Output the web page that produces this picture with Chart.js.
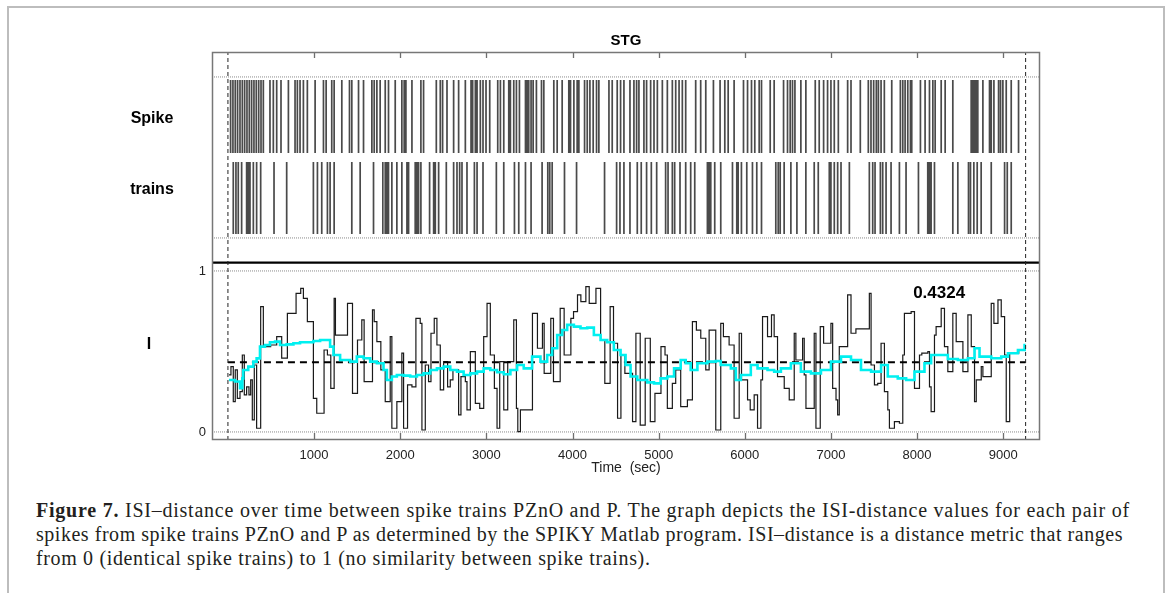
<!DOCTYPE html>
<html><head><meta charset="utf-8">
<script src="https://cdn.jsdelivr.net/npm/chart.js@4.4.1/dist/chart.umd.min.js"></script>
<style>
html,body{margin:0;padding:0;background:#fff;width:1167px;height:593px;overflow:hidden;}
#frame{position:absolute;left:7px;top:6px;width:1158px;height:620px;border:2px solid #bdbdbd;border-bottom:none;box-sizing:border-box;}
#wrap{position:absolute;left:0;top:0;width:1167px;height:480px;}
#cap{position:absolute;left:36px;top:498px;font-family:"Liberation Serif","DejaVu Serif",serif;font-size:20px;line-height:24px;color:#231f20;white-space:nowrap;}
#cap .ln{display:block;}
#cap .ln span.t{display:inline-block;}
#cap b{font-weight:bold;}
</style></head>
<body>
<div id="frame"></div>
<div id="wrap"><canvas id="c" width="1167" height="480"></canvas></div>
<div id="cap">
<div class="ln"><span class="t"><b>Figure 7.</b> ISI–distance over time between spike trains PZnO and P. The graph depicts the ISI-distance values for each pair of</span></div>
<div class="ln"><span class="t">spikes from spike trains PZnO and P as determined by the SPIKY Matlab program. ISI–distance is a distance metric that ranges</span></div>
<div class="ln"><span class="t">from 0 (identical spike trains) to 1 (no similarity between spike trains).</span></div>
</div>
<script>
// ---- data ----
const titleText = 'STG';
const xTicks = [1000,2000,3000,4000,5000,6000,7000,8000,9000];
const yTicks = [0,1];
const recStart = 0;
const recEnd = 9260;
const meanISI = 0.4324;

const spikeTrain1 = [31,58,85,112,140,167,194,221,248,275,302,329,357,384,411,488,527,566,616,702,779,806,837,876,922,1012,1109,1140,1205,1233,1322,1411,1438,1516,1574,1671,1698,1729,1767,1826,1864,1942,2019,2046,2066,2136,2240,2271,2419,2465,2492,2543,2620,2678,2756,2822,2841,2872,2892,2930,2961,2996,3039,3132,3163,3202,3260,3279,3318,3349,3384,3454,3473,3492,3519,3543,3581,3640,3667,3783,3822,3880,3957,3977,4016,4054,4074,4140,4171,4202,4240,4279,4306,4423,4461,4519,4558,4597,4667,4713,4744,4771,4829,4860,4907,4946,4985,5043,5101,5159,5198,5237,5275,5314,5430,5488,5547,5636,5713,5768,5807,5876,5985,6032,6078,6116,6167,6194,6295,6341,6450,6496,6527,6554,6582,6651,6709,6818,6864,6915,6961,7000,7039,7086,7194,7233,7341,7434,7465,7496,7527,7551,7582,7620,7706,7806,7834,7861,7892,7923,7938,8039,8093,8144,8183,8210,8280,8326,8415,8628,8647,8667,8686,8705,8764,8841,8861,8892,8946,8969,8996,9035,9093,9178];

const spikeTrain2 = [62,93,120,159,217,236,256,295,333,380,535,682,992,1039,1089,1155,1186,1233,1438,1535,1690,1798,1826,1845,1864,1903,1961,2019,2078,2097,2174,2194,2213,2240,2341,2388,2407,2446,2535,2620,2659,2690,2717,2775,2861,2892,2961,3116,3202,3326,3376,3454,3519,3647,3713,3736,3764,3907,4047,4372,4512,4551,4597,4667,4752,4798,4860,4915,4977,5081,5109,5159,5186,5248,5314,5372,5419,5566,5585,5605,5651,5721,5857,5907,5923,5961,6023,6089,6139,6194,6360,6388,6411,6457,6535,6605,6709,6806,6853,6981,7000,7039,7078,7117,7214,7446,7485,7512,7574,7601,7640,7698,7795,7872,8016,8124,8144,8163,8202,8415,8473,8597,8620,8659,8698,8744,8861,9016,9047,9093];

const isiTimes = [12,35,62,85,109,140,167,190,217,244,264,283,306,333,380,411,496,566,624,690,791,845,876,922,992,1031,1116,1155,1194,1233,1248,1388,1446,1504,1554,1581,1678,1698,1729,1775,1826,1884,1903,1961,2019,2039,2085,2136,2182,2232,2252,2291,2329,2357,2395,2426,2465,2504,2550,2581,2612,2678,2705,2756,2775,2814,2872,2923,2969,3008,3046,3093,3124,3155,3202,3248,3318,3349,3365,3395,3535,3593,3651,3671,3748,3779,3857,3903,3981,4012,4058,4097,4155,4194,4272,4326,4375,4437,4476,4523,4562,4608,4697,4736,4786,4844,4903,4957,5027,5074,5101,5159,5198,5256,5334,5392,5438,5489,5547,5586,5663,5721,5752,5818,5876,5935,5962,6032,6063,6109,6148,6187,6206,6264,6310,6341,6380,6458,6516,6574,6593,6671,6690,6710,6806,6826,6876,6915,7000,7020,7059,7078,7097,7194,7233,7290,7446,7466,7505,7543,7582,7621,7660,7679,7737,7795,7834,7853,7931,7970,8028,8055,8125,8144,8163,8202,8221,8280,8318,8357,8415,8454,8532,8590,8629,8667,8687,8745,8764,8861,8892,8939,8977,9016,9035,9075,9180];
const isiValues = [0.354,0.406,0.188,0.385,0.209,0.25,0.478,0.23,0.28,0.23,0.323,0.075,0.416,0.023,0.778,0.53,0.54,0.592,0.458,0.737,0.861,0.892,0.83,0.685,0.209,0.116,0.509,0.478,0.271,0.83,0.602,0.799,0.24,0.571,0.696,0.313,0.758,0.685,0.561,0.385,0.188,0.592,0.023,0.188,0.489,0.023,0.292,0.28,0.706,0.675,0.012,0.416,0.313,0.613,0.706,0.54,0.261,0.437,0.28,0.323,0.385,0.106,0.344,0.313,0.137,0.499,0.178,0.147,0.592,0.799,0.478,0.271,0.023,0.437,0.137,0.437,0.696,0.147,0.002,0.137,0.737,0.52,0.675,0.364,0.706,0.313,0.768,0.478,0.706,0.747,0.851,0.809,0.903,0.799,0.892,0.571,0.302,0.778,0.551,0.085,0.478,0.364,0.064,0.613,0.043,0.582,0.064,0.24,0.53,0.478,0.147,0.302,0.385,0.157,0.199,0.685,0.633,0.582,0.385,0.633,0.012,0.675,0.592,0.54,0.085,0.613,0.323,0.199,0.137,0.23,0.023,0.323,0.716,0.592,0.727,0.592,0.344,0.271,0.199,0.613,0.447,0.582,0.354,0.147,0.613,0.023,0.654,0.551,0.675,0.271,0.199,0.106,0.53,0.851,0.613,0.64,0.861,0.416,0.292,0.302,0.551,0.25,0.137,0.023,0.064,0.054,0.478,0.737,0.747,0.271,0.478,0.489,0.499,0.28,0.126,0.602,0.654,0.768,0.53,0.375,0.737,0.561,0.375,0.727,0.53,0.188,0.323,0.406,0.344,0.799,0.675,0.82,0.716,0.478,0.064,0.49,0.51];

const avgTimes = [12,81,140,167,178,236,295,333,372,430,488,547,605,682,760,837,915,992,1070,1128,1186,1225,1302,1419,1496,1574,1651,1729,1806,1845,1903,1961,2039,2116,2194,2271,2349,2426,2504,2581,2659,2736,2814,2892,2969,3046,3124,3202,3279,3357,3434,3531,3628,3706,3764,3822,3880,3938,4016,4093,4171,4248,4326,4403,4480,4558,4616,4674,4752,4868,4946,5023,5101,5179,5256,5314,5372,5450,5566,5663,5721,5838,5896,5954,6070,6148,6264,6341,6419,6535,6651,6768,6884,7000,7117,7233,7349,7466,7582,7660,7776,7873,7970,8086,8163,8241,8357,8473,8590,8667,8725,8861,8977,9055,9171,9248];
const avgValues = [0.323,0.313,0.271,0.333,0.385,0.406,0.437,0.457,0.53,0.54,0.557,0.561,0.54,0.544,0.551,0.557,0.557,0.565,0.571,0.571,0.53,0.478,0.447,0.437,0.468,0.458,0.437,0.427,0.385,0.323,0.344,0.354,0.35,0.344,0.354,0.364,0.385,0.395,0.406,0.385,0.375,0.354,0.364,0.375,0.395,0.385,0.371,0.358,0.385,0.416,0.395,0.468,0.437,0.478,0.52,0.602,0.633,0.665,0.654,0.644,0.648,0.602,0.571,0.557,0.509,0.478,0.416,0.344,0.323,0.308,0.302,0.333,0.344,0.395,0.447,0.427,0.385,0.427,0.437,0.441,0.416,0.395,0.323,0.354,0.416,0.395,0.385,0.375,0.395,0.427,0.375,0.364,0.385,0.437,0.468,0.447,0.385,0.375,0.416,0.344,0.333,0.323,0.375,0.427,0.478,0.478,0.453,0.447,0.458,0.52,0.468,0.458,0.468,0.489,0.509,0.54];

// ---- panel geometry (styling, in y-scale units) ----
const Y_MIN = -0.05, Y_MAX = 2.36, X_MIN = -185, X_MAX = 9427;
const row1 = [1.733, 2.186], row2 = [1.230, 1.677];
const dottedLevels = [2.205, 1.205, 1, 0];
const solidLevel = 1.052;

function spikeData(times, lo, hi){
  const d = [];
  times.forEach(t => { d.push({x:t,y:lo},{x:t,y:hi},{x:t,y:null}); });
  return d;
}
function stepData(ts, vs, end){
  const d = ts.map((t,i)=>({x:t,y:vs[i]}));
  d.push({x:end,y:vs[vs.length-1]});
  return d;
}

const datasets = [];
dottedLevels.forEach(v => datasets.push({data:[{x:X_MIN,y:v},{x:X_MAX,y:v}], borderColor:'#8a8a8a', borderWidth:1, borderDash:[1,1], order:10}));
datasets.push({data:[{x:X_MIN,y:solidLevel},{x:X_MAX,y:solidLevel}], borderColor:'#000', borderWidth:2.2, order:9});
[recStart, recEnd].forEach(t => datasets.push({data:[{x:t,y:Y_MIN},{x:t,y:Y_MAX}], borderColor:'#222', borderWidth:1, borderDash:[4,3], order:1}));
datasets.push({data:spikeData(spikeTrain1,row1[0],row1[1]), borderColor:'#4a4a4a', borderWidth:1.7, spanGaps:false, order:5});
datasets.push({data:spikeData(spikeTrain2,row2[0],row2[1]), borderColor:'#4a4a4a', borderWidth:1.7, spanGaps:false, order:5});
datasets.push({data:stepData(isiTimes,isiValues,recEnd), borderColor:'#1a1a1a', borderWidth:1.2, stepped:true, order:4});
datasets.push({data:[{x:recStart,y:meanISI},{x:recEnd,y:meanISI}], borderColor:'#000', borderWidth:2, borderDash:[7,5], order:3});
datasets.push({data:stepData(avgTimes,avgValues,recEnd), borderColor:'#00f0f0', borderWidth:2.6, stepped:true, order:2});

const deco = {
  id:'deco',
  afterDatasetsDraw(chart){
    const {ctx, chartArea:a, scales:{x,y}} = chart;
    ctx.save();
    ctx.strokeStyle = '#6e6e6e'; ctx.lineWidth = 1.3; ctx.setLineDash([]);
    xTicks.forEach(v => {
      const px = Math.round(x.getPixelForValue(v)) + 0.5;
      ctx.beginPath(); ctx.moveTo(px, a.top); ctx.lineTo(px, a.top+6);
      ctx.moveTo(px, a.bottom); ctx.lineTo(px, a.bottom-7); ctx.stroke();
    });
    ctx.strokeStyle = '#777'; ctx.lineWidth = 1.5;
    ctx.strokeRect(a.left+0.5, a.top+0.5, a.right-a.left-1, a.bottom-a.top-1);
    ctx.fillStyle = '#000'; ctx.textAlign='center'; ctx.textBaseline='middle';
    ctx.font = 'bold 16px "Liberation Sans", Arial, sans-serif';
    ctx.fillText('Spike', 152, y.getPixelForValue(1.945));
    ctx.fillText('trains', 152, y.getPixelForValue(1.505));
    ctx.fillText('I', 149, y.getPixelForValue(0.54));
    ctx.font = 'bold 17px "Liberation Sans", Arial, sans-serif';
    ctx.fillText(meanISI.toFixed(4), x.getPixelForValue(8256), y.getPixelForValue(0.862));
    ctx.restore();
  }
};

new Chart(document.getElementById('c'), {
  type:'line',
  data:{datasets},
  options:{
    responsive:false, animation:false, devicePixelRatio:1,
    layout:{padding:{top:0,left:0,right:127,bottom:0}},
    elements:{point:{radius:0,hoverRadius:0}, line:{tension:0}},
    plugins:{
      legend:{display:false}, tooltip:{enabled:false},
      title:{display:true, text:titleText, fullSize:false, color:'#000',
        font:{family:'"Liberation Sans", Arial, sans-serif', size:15, weight:'bold'}, padding:{top:32,bottom:2}}
    },
    scales:{
      x:{type:'linear', min:X_MIN, max:X_MAX,
        grid:{display:false, drawTicks:false}, border:{display:false},
        afterBuildTicks:s=>{s.ticks = xTicks.map(v=>({value:v}));},
        afterFit:s=>{s.height = 40;},
        ticks:{padding:8, color:'#222', maxRotation:0, autoSkip:false, font:{family:'"Liberation Sans", Arial, sans-serif', size:13}, callback:v=>String(v)},
        title:{display:true, text:'Time  (sec)', color:'#222', font:{family:'"Liberation Sans", Arial, sans-serif', size:14}, padding:{top:0,bottom:3}}
      },
      y:{min:Y_MIN, max:Y_MAX,
        grid:{display:false, drawTicks:false}, border:{display:false},
        afterBuildTicks:s=>{s.ticks = yTicks.map(v=>({value:v}));},
        afterFit:s=>{s.width = 212;},
        ticks:{padding:6, color:'#222', autoSkip:false, font:{family:'"Liberation Sans", Arial, sans-serif', size:13}, callback:v=>String(v)}
      }
    }
  },
  plugins:[deco]
});

// fit caption lines to the widths measured on the reference
(function(){
  const spans = document.querySelectorAll('#cap .t');
  const targets = [1094, 1087];
  const sp = [];
  targets.forEach((w,i)=>{
    const s = spans[i];
    const n = s.textContent.length;
    const cur = s.getBoundingClientRect().width;
    const ls = (w - cur) / n;
    s.style.letterSpacing = ls + 'px';
    sp.push(ls);
  });
  spans[2].style.letterSpacing = ((sp[0]+sp[1])/2) + 'px';
})();
</script>
</body></html>
